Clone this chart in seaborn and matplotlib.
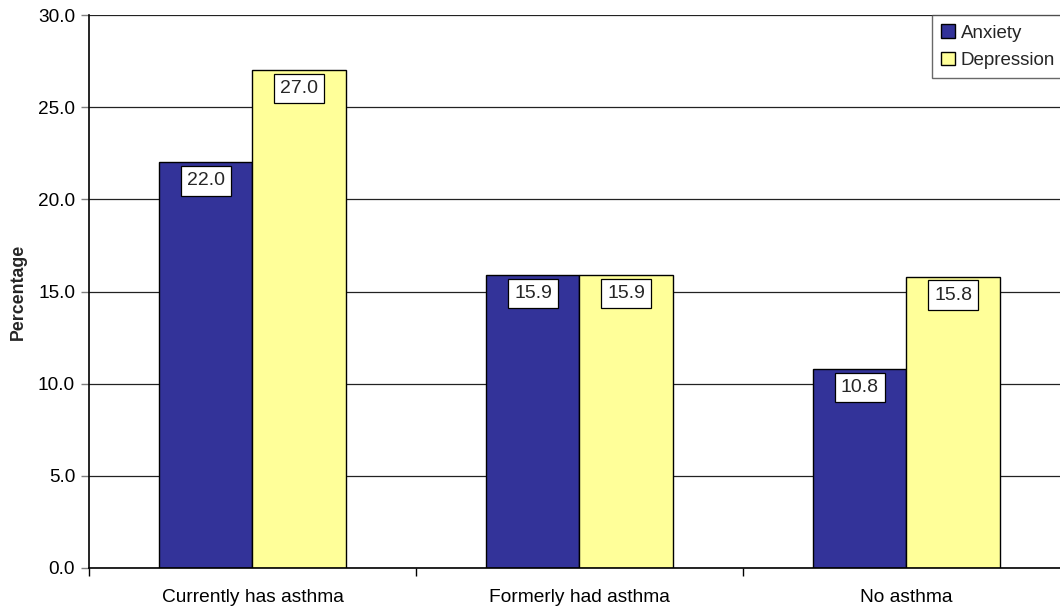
import matplotlib
matplotlib.use("Agg")
import matplotlib.pyplot as plt
import seaborn as sns
import pandas as pd
from matplotlib.ticker import FixedLocator, FormatStrFormatter

categories = ["Currently has asthma", "Formerly had asthma", "No asthma"]
series_names = ["Anxiety", "Depression"]
anxiety = [22.0, 15.9, 10.8]
depression = [27.0, 15.9, 15.8]
colors = ["#333399", "#FFFF99"]

df = pd.DataFrame({
    "category": categories * 2,
    "series": [series_names[0]] * 3 + [series_names[1]] * 3,
    "value": anxiety + depression,
})

sns.set_theme(style="white")
plt.rcParams["font.family"] = ["Liberation Sans", "DejaVu Sans"]

W, H = 1060, 612
fig = plt.figure(figsize=(W / 100, H / 100), dpi=100)
ax = fig.add_axes([89 / W, 1 - 568 / H, (1070 - 89) / W, (568 - 15) / H])

sns.barplot(data=df, x="category", y="value", hue="series", order=categories,
            hue_order=series_names, palette=colors, width=0.569, gap=0,
            edgecolor="black", linewidth=1, saturation=1, ax=ax, zorder=3,
            legend=True)

ax.set_xlim(-0.5, 2.5)
ax.set_ylim(0, 30)
ax.set_yticks([0, 5, 10, 15, 20, 25, 30])
ax.yaxis.set_major_formatter(FormatStrFormatter("%.1f"))
ax.yaxis.grid(True, color="#222222", linewidth=0.9, zorder=0)
ax.set_axisbelow(True)
ax.xaxis.grid(False)

for s in ["top", "right"]:
    ax.spines[s].set_visible(False)
for s in ["left", "bottom"]:
    ax.spines[s].set_visible(True)
    ax.spines[s].set_color("black")
    ax.spines[s].set_linewidth(1.2)
    ax.spines[s].set_zorder(4)

ax.tick_params(axis="y", which="major", left=True, length=6, width=1,
               color="#808080", labelsize=13.7, pad=4, labelcolor="black")
ax.tick_params(axis="x", which="major", bottom=False, length=0,
               labelsize=13.8, pad=15, labelcolor="black")
ax.xaxis.set_minor_locator(FixedLocator([-0.5, 0.5, 1.5, 2.5]))
ax.tick_params(axis="x", which="minor", bottom=True, length=6, width=1,
               color="black")

ax.set_xlabel("")
ax.set_ylabel("Percentage", fontsize=12.8, fontweight="bold", labelpad=8)

for cont in ax.containers:
    for bar in cont:
        h = bar.get_height()
        ax.annotate(f"{h:.1f}", (bar.get_x() + bar.get_width() / 2, h),
                    xytext=(0, -13.2), textcoords="offset points",
                    ha="center", va="center", fontsize=14, zorder=6,
                    bbox=dict(boxstyle="square,pad=0.32", fc="white",
                              ec="black", lw=0.9))

leg = ax.legend(loc="upper left", bbox_to_anchor=(932 / W, 1 - 15 / H),
                bbox_transform=fig.transFigure, fontsize=13.5, frameon=True,
                fancybox=False, handlelength=0.7, handleheight=0.7,
                handletextpad=0.32, borderpad=0.5, labelspacing=0.55,
                borderaxespad=0)
leg.get_frame().set_edgecolor("#444444")
leg.get_frame().set_linewidth(1)
leg.set_zorder(10)

fig.savefig("out.png", dpi=100)
